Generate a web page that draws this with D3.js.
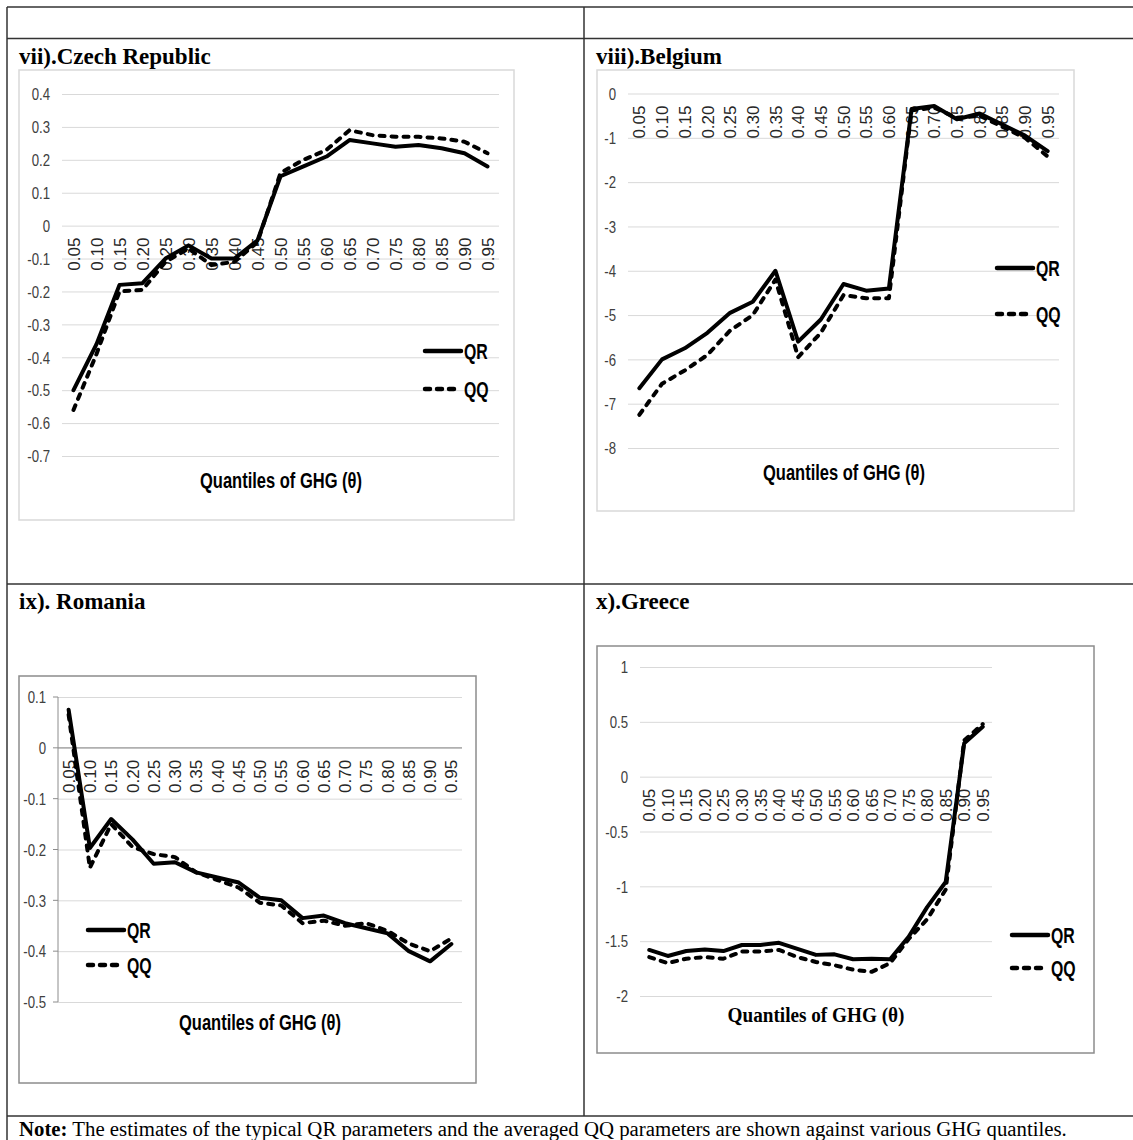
<!DOCTYPE html>
<html>
<head>
<meta charset="utf-8">
<script src="https://cdn.jsdelivr.net/npm/d3@7"></script>
<style>
  html, body { margin: 0; padding: 0; background: #fff; }
  svg { display: block; }
  .ytick text { font-family: "Liberation Sans", Arial, sans-serif; font-size: 16.5px; fill: #404040; }
  .xtick text { font-family: "Liberation Sans", Arial, sans-serif; font-size: 17px; fill: #262626; }
  .legend-text, .axis-title { font-family: "Liberation Sans", Arial, sans-serif; font-weight: bold; fill: #000; }
  .serif { font-family: "Liberation Serif", "Times New Roman", serif; }
</style>
</head>
<body>
<svg id="fig" width="1133" height="1140"></svg>
<script>
// Quantiles of GHG on the horizontal axis
const quantiles = ["0.05","0.10","0.15","0.20","0.25","0.30","0.35","0.40","0.45","0.50",
                   "0.55","0.60","0.65","0.70","0.75","0.80","0.85","0.90","0.95"];

// vii) Czech Republic
const czechQR = [-0.50,-0.36,-0.18,-0.175,-0.10,-0.06,-0.10,-0.10,-0.045,0.15,0.18,0.21,0.26,0.25,0.24,0.245,0.235,0.22,0.18];
const czechQQ = [-0.56,-0.39,-0.20,-0.195,-0.11,-0.07,-0.12,-0.11,-0.05,0.16,0.20,0.23,0.29,0.275,0.27,0.27,0.265,0.255,0.22];
const czechTicks = [0.4,0.3,0.2,0.1,0,-0.1,-0.2,-0.3,-0.4,-0.5,-0.6,-0.7];

// viii) Belgium
const belgiumQR = [-6.65,-6.0,-5.75,-5.4,-4.95,-4.7,-4.0,-5.6,-5.1,-4.3,-4.45,-4.4,-0.35,-0.28,-0.58,-0.45,-0.7,-0.95,-1.3];
const belgiumQQ = [-7.25,-6.55,-6.25,-5.9,-5.35,-5.0,-4.2,-5.95,-5.4,-4.55,-4.62,-4.62,-0.38,-0.32,-0.55,-0.5,-0.75,-1.0,-1.42];
const belgiumTicks = [0,-1,-2,-3,-4,-5,-6,-7,-8];

// ix) Romania
const romaniaQR = [0.075,-0.197,-0.14,-0.18,-0.228,-0.225,-0.245,-0.255,-0.265,-0.295,-0.30,-0.335,-0.33,-0.345,-0.355,-0.365,-0.40,-0.42,-0.386];
const romaniaQQ = [0.065,-0.236,-0.15,-0.195,-0.209,-0.215,-0.245,-0.26,-0.275,-0.305,-0.31,-0.345,-0.34,-0.35,-0.345,-0.36,-0.385,-0.40,-0.375];
const romaniaTicks = [0.1,0,-0.1,-0.2,-0.3,-0.4,-0.5];

// x) Greece
const greeceQR = [-1.58,-1.635,-1.59,-1.575,-1.59,-1.535,-1.535,-1.515,-1.57,-1.625,-1.62,-1.665,-1.66,-1.665,-1.46,-1.19,-0.96,0.305,0.455];
const greeceQQ = [-1.645,-1.70,-1.66,-1.645,-1.66,-1.595,-1.595,-1.58,-1.645,-1.69,-1.72,-1.76,-1.78,-1.70,-1.48,-1.30,-1.03,0.33,0.48];
const greeceTicks = [1,0.5,0,-0.5,-1,-1.5,-2];

const seriesNames = ["QR", "QQ"];
const axisTitle = "Quantiles of GHG (θ)";
const axisTitleRomania = "Quantiles of  GHG (θ)";
const noteBold = "Note:";
const noteText = " The estimates of the typical QR parameters and the averaged QQ parameters are shown against various GHG quantiles.";

const svg = d3.select("#fig");

// squeeze text horizontally to get a condensed face out of a regular one
function condense(sel, k) {
  sel.each(function () {
    const w = this.getComputedTextLength();
    d3.select(this).attr("textLength", w * k).attr("lengthAdjust", "spacingAndGlyphs");
  });
}

// ---- table frame ----
const frame = svg.append("g").attr("stroke", "#333").attr("stroke-width", 1.5).attr("fill", "none");
frame.append("line").attr("x1", 7).attr("x2", 1140).attr("y1", 7).attr("y2", 7);
frame.append("line").attr("x1", 7).attr("x2", 1140).attr("y1", 38.5).attr("y2", 38.5);
frame.append("line").attr("x1", 7).attr("x2", 1140).attr("y1", 584).attr("y2", 584);
frame.append("line").attr("x1", 7).attr("x2", 1140).attr("y1", 1116).attr("y2", 1116);
frame.append("line").attr("x1", 7).attr("x2", 7).attr("y1", 7).attr("y2", 1145);
frame.append("line").attr("x1", 584).attr("x2", 584).attr("y1", 7).attr("y2", 1116);

// ---- one chart panel ----
function panel(cfg) {
  const g = svg.append("g");

  // panel caption
  g.append("text").attr("class", "serif")
    .attr("x", cfg.titleX).attr("y", cfg.titleY)
    .attr("font-size", 23).attr("font-weight", "bold")
    .text(cfg.title);

  // chart frame
  g.append("rect")
    .attr("x", cfg.box[0]).attr("y", cfg.box[1])
    .attr("width", cfg.box[2]).attr("height", cfg.box[3])
    .attr("fill", "#fff").attr("stroke", cfg.boxStroke).attr("stroke-width", 1.5);

  const x = d3.scaleBand().domain(quantiles).range(cfg.xRange);
  const y = d3.scaleLinear().domain(cfg.yDomain).range(cfg.yRange);
  const bw = x.bandwidth();

  // value axis with gridlines
  const yAxis = g.append("g").attr("class", "ytick")
    .attr("transform", `translate(${cfg.xRange[0]},0)`)
    .call(d3.axisLeft(y).tickValues(cfg.ticks).tickFormat(d => String(d))
      .tickSize(-(cfg.xRange[1] - cfg.xRange[0])).tickPadding(12));
  yAxis.select(".domain").remove();
  yAxis.selectAll(".tick line").attr("stroke", "#d9d9d9").attr("stroke-width", 1);
  yAxis.selectAll(".tick text").attr("dy", "0.35em").call(condense, 0.8);

  if (cfg.leftAxis) {
    // visible vertical axis with short outside ticks
    g.append("line")
      .attr("x1", cfg.xRange[0]).attr("x2", cfg.xRange[0])
      .attr("y1", y(cfg.ticks[0])).attr("y2", y(cfg.ticks[cfg.ticks.length - 1]))
      .attr("stroke", "#8c8c8c").attr("stroke-width", 1);
    g.selectAll(".ltick").data(cfg.ticks).join("line")
      .attr("x1", cfg.xRange[0] - 5).attr("x2", cfg.xRange[0])
      .attr("y1", d => y(d)).attr("y2", d => y(d))
      .attr("stroke", "#8c8c8c").attr("stroke-width", 1);
    g.append("line")
      .attr("x1", cfg.xRange[0]).attr("x2", cfg.xRange[1])
      .attr("y1", y(0)).attr("y2", y(0))
      .attr("stroke", "#8c8c8c").attr("stroke-width", 1);
  }

  // category axis crossing at zero, labels rotated
  const xAxis = g.append("g").attr("class", "xtick")
    .attr("transform", `translate(0,${y(0)})`)
    .call(d3.axisBottom(x).tickSize(0).tickPadding(0));
  xAxis.select(".domain").remove();
  xAxis.selectAll(".tick text")
    .attr("transform", "rotate(-90)")
    .attr("text-anchor", "end")
    .attr("x", -12).attr("y", 0).attr("dy", "0.36em");

  // axis title
  const at = g.append("text")
    .attr("class", cfg.serifTitle ? "serif" : "axis-title")
    .attr("x", cfg.axisTitlePos[0]).attr("y", cfg.axisTitlePos[1])
    .attr("text-anchor", "middle").attr("dy", "0.35em")
    .attr("font-size", cfg.serifTitle ? 20 : 22)
    .attr("font-weight", "bold")
    .text(cfg.axisTitle);
  if (!cfg.serifTitle) at.call(condense, 0.75);
  else at.call(condense, 0.96);

  // series lines
  const line = d3.line()
    .x((d, i) => x(quantiles[i]) + bw / 2)
    .y(d => y(d));

  const styles = [
    { dash: null },
    { dash: "5,7" }
  ];
  [cfg.qr, cfg.qq].forEach((vals, k) => {
    g.append("path").datum(vals)
      .attr("d", line)
      .attr("fill", "none")
      .attr("stroke", "#000")
      .attr("stroke-width", 4)
      .attr("stroke-linejoin", "round")
      .attr("stroke-linecap", "round")
      .attr("stroke-dasharray", styles[k].dash);
  });

  // legend
  const lg = g.append("g");
  seriesNames.forEach((name, k) => {
    const ly = cfg.legend[1] + k * cfg.legendGap;
    lg.append("line")
      .attr("x1", cfg.legend[0]).attr("x2", cfg.legend[0] + 36)
      .attr("y1", ly).attr("y2", ly)
      .attr("stroke", "#000").attr("stroke-width", 4.5)
      .attr("stroke-linecap", "round")
      .attr("stroke-dasharray", styles[k].dash);
    lg.append("text").attr("class", "legend-text")
      .attr("x", cfg.legend[0] + 39).attr("y", ly).attr("dy", "0.36em")
      .attr("font-size", 22)
      .text(name)
      .call(condense, 0.72);
  });
}

panel({
  title: "vii).Czech Republic", titleX: 19, titleY: 64,
  box: [19, 70, 495, 450], boxStroke: "#d9d9d9",
  xRange: [62, 499], yDomain: [-0.7, 0.4], yRange: [456, 94],
  ticks: czechTicks, qr: czechQR, qq: czechQQ,
  axisTitle: axisTitle, axisTitlePos: [281, 480],
  legend: [425, 351], legendGap: 38
});

panel({
  title: "viii).Belgium", titleX: 596, titleY: 64,
  box: [597, 70, 477, 441], boxStroke: "#d9d9d9",
  xRange: [628, 1059], yDomain: [-8, 0], yRange: [448, 93.5],
  ticks: belgiumTicks, qr: belgiumQR, qq: belgiumQQ,
  axisTitle: axisTitle, axisTitlePos: [844, 472],
  legend: [997, 268], legendGap: 46
});

panel({
  title: "ix). Romania", titleX: 19, titleY: 609,
  box: [19, 676, 457, 407], boxStroke: "#8c8c8c",
  xRange: [58, 462], yDomain: [-0.5, 0.1], yRange: [1002, 697],
  ticks: romaniaTicks, qr: romaniaQR, qq: romaniaQQ, leftAxis: true,
  axisTitle: axisTitleRomania, axisTitlePos: [260, 1022],
  legend: [88, 930], legendGap: 35
});

panel({
  title: "x).Greece", titleX: 596, titleY: 609,
  box: [597, 646, 497, 407], boxStroke: "#8c8c8c",
  xRange: [640, 992], yDomain: [-2, 1], yRange: [996, 667],
  ticks: greeceTicks, qr: greeceQR, qq: greeceQQ, serifTitle: true,
  axisTitle: axisTitle, axisTitlePos: [816, 1015],
  legend: [1012, 935], legendGap: 33
});

// footnote
const note = svg.append("text").attr("class", "serif")
  .attr("x", 19).attr("y", 1136).attr("font-size", 20.8);
note.append("tspan").attr("font-weight", "bold").text(noteBold);
note.append("tspan").text(noteText);
</script>
</body>
</html>
